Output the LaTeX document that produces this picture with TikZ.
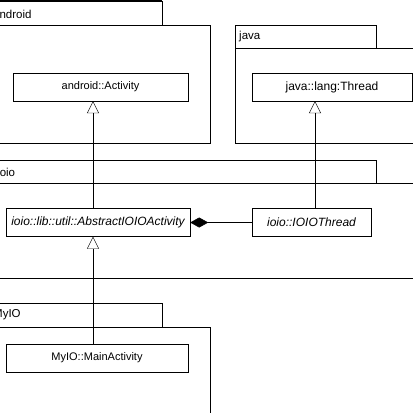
\documentclass[tikz,border=0pt]{standalone}
\usepackage{fontspec}
\setmainfont{Liberation Sans}
\usetikzlibrary{arrows.meta,positioning}

\begin{document}
\begin{tikzpicture}[x=1pt,y=-1pt,font=\fontsize{11}{13}\selectfont,
  cls/.style={draw,fill=white,minimum height=28pt,inner sep=0pt},
  abs/.style={cls,font=\fontsize{12}{14}\selectfont\itshape},
  pkg/.style={draw,line width=0.6pt},
  pkgname/.style={anchor=west,inner sep=0pt,font=\fontsize{11.5}{13}\selectfont},
  inherit/.style={-{Triangle[open,length=12pt,width=12pt]}},
  owns/.style={-{Diamond[length=18pt,width=10pt]}}]
 \clip (0,0) rectangle (413,413);
 % packages
 \draw[pkg] (-5,1) rectangle (162,25);
 \draw[line width=1.5pt] (-5,0.75) -- (162,0.75);
 \draw[pkg] (-5,25) rectangle (210,143);
 \node[pkgname] (p_android) at (-7,14) {android};
 \draw[pkg] (235,25) rectangle (376,48);
 \draw[pkg] (235,48) rectangle (420,143);
 \node[pkgname] (p_java) at (239,37) {java};
 \draw[pkg] (-5,160) rectangle (376,183);
 \draw[pkg] (-5,183) rectangle (420,278);
 \node[pkgname] (p_ioio) at (-3,172) {ioio};
 \draw[pkg] (-5,303) rectangle (162,327);
 \draw[pkg] (-5,327) rectangle (210,420);
 \node[pkgname] (p_myio) at (-7,315) {MyIO};

 % classes
 \node[cls,minimum width=175pt] (c_activity) at (100.5,87) {android::Activity};
 \node[cls,minimum width=160pt,font=\fontsize{12}{14}\selectfont] (c_thread) at (332,87) {java::lang:Thread};
 \node[abs,minimum width=184pt] (c_abstract) at (98,222.5) {ioio::lib::util::AbstractIOIOActivity};
 \node[abs,minimum width=119pt] (c_ioiothread) at (311.5,222.5) {ioio::IOIOThread};
 \node[cls,minimum width=182pt] (c_main) at (97,358) {MyIO::MainActivity};

 \draw[inherit] ([xshift=-5pt]c_abstract.north) -- ([xshift=-5pt]c_abstract.north |- c_activity.south);
 \draw[inherit] ([xshift=3.5pt]c_ioiothread.north) -- ([xshift=3.5pt]c_ioiothread.north |- c_thread.south);
 \draw[inherit] ([xshift=-4pt]c_main.north) -- ([xshift=-4pt]c_main.north |- c_abstract.south);
 \draw[owns] (c_ioiothread.west) -- (c_abstract.east);
\end{tikzpicture}
\end{document}
